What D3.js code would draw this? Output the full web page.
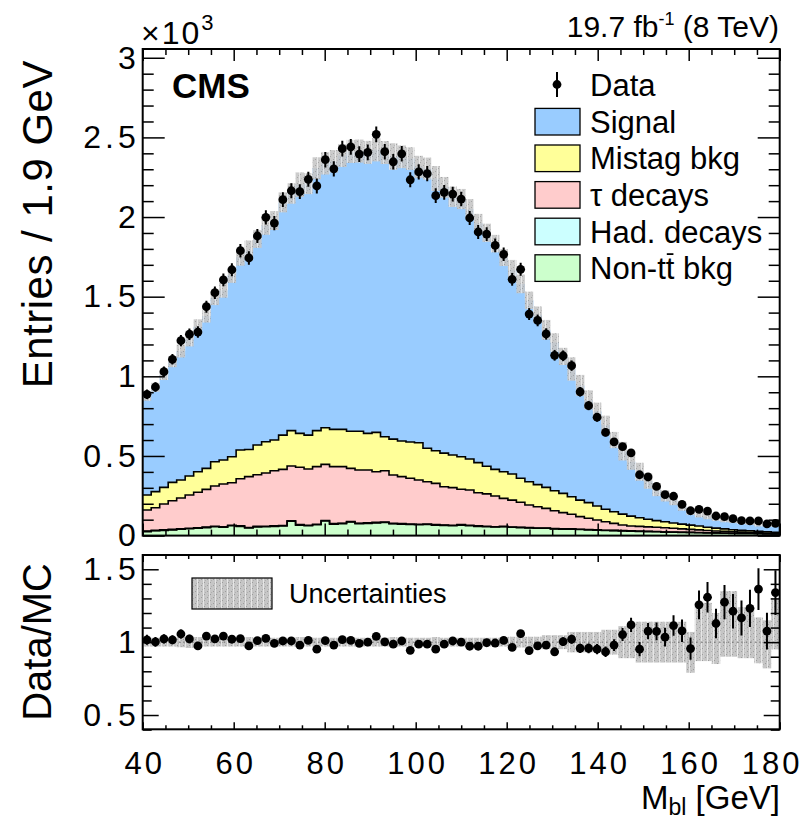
<!DOCTYPE html>
<html><head><meta charset="utf-8">
<script src="https://cdn.jsdelivr.net/npm/d3@7"></script>
<style>
body{margin:0;background:#fff;}
svg text{font-family:"Liberation Sans", Arial, Helvetica, sans-serif;fill:#000;}
</style></head><body>
<svg id="c" width="812" height="821"></svg>
<script>
// ---------- data (entries in units of 10^3) ----------
const binLow = 40, binHigh = 180, nBins = 75;
const data = [0.887,0.933,1.029,1.107,1.224,1.264,1.278,1.437,1.525,1.605,
1.669,1.789,1.743,1.881,1.998,1.962,2.109,2.165,2.159,2.237,
2.195,2.360,2.303,2.429,2.441,2.395,2.406,2.519,2.410,2.347,
2.397,2.234,2.283,2.272,2.134,2.155,2.144,2.113,1.994,1.906,
1.893,1.822,1.766,1.609,1.672,1.391,1.351,1.266,1.132,1.129,
1.067,0.903,0.816,0.743,0.648,0.588,0.558,0.519,0.382,0.368,
0.309,0.257,0.247,0.196,0.156,0.165,0.154,0.123,0.119,0.106,
0.094,0.092,0.092,0.073,0.077];
const signal = [0.618,0.655,0.704,0.756,0.810,0.863,0.911,0.957,1.028,1.065,
1.141,1.210,1.249,1.293,1.358,1.378,1.461,1.489,1.561,1.579,
1.647,1.660,1.683,1.719,1.757,1.759,1.764,1.774,1.784,1.774,
1.784,1.779,1.732,1.756,1.709,1.668,1.621,1.618,1.570,1.503,
1.466,1.417,1.344,1.282,1.220,1.139,1.067,0.989,0.930,0.860,
0.802,0.720,0.645,0.594,0.529,0.450,0.395,0.342,0.289,0.239,
0.194,0.162,0.143,0.110,0.097,0.071,0.066,0.062,0.051,0.050,
0.048,0.045,0.040,0.044,0.036];
const mistag = [0.094,0.101,0.105,0.115,0.113,0.119,0.129,0.132,0.153,0.151,
0.163,0.180,0.171,0.187,0.196,0.193,0.215,0.222,0.213,0.213,
0.226,0.230,0.234,0.234,0.233,0.243,0.230,0.247,0.214,0.226,
0.224,0.228,0.234,0.210,0.205,0.211,0.205,0.204,0.195,0.189,
0.173,0.167,0.167,0.164,0.151,0.146,0.139,0.132,0.126,0.121,
0.110,0.104,0.098,0.088,0.078,0.073,0.068,0.062,0.054,0.048,
0.042,0.038,0.033,0.030,0.027,0.024,0.020,0.018,0.015,0.013,
0.011,0.010,0.009,0.008,0.007];
const tau = [0.133,0.142,0.162,0.180,0.193,0.209,0.223,0.237,0.252,0.269,
0.267,0.296,0.319,0.324,0.334,0.346,0.353,0.344,0.360,0.353,
0.362,0.352,0.358,0.355,0.334,0.334,0.332,0.318,0.322,0.303,
0.295,0.287,0.278,0.265,0.259,0.240,0.236,0.222,0.221,0.208,
0.203,0.193,0.176,0.169,0.157,0.142,0.133,0.123,0.112,0.102,
0.092,0.079,0.071,0.062,0.053,0.044,0.036,0.030,0.030,0.028,
0.026,0.026,0.024,0.021,0.019,0.017,0.014,0.012,0.011,0.009,
0.008,0.006,0.005,0.004,0.003];
const had = [0.003,0.003,0.003,0.003,0.003,0.003,0.003,0.003,0.003,0.003,
0.003,0.003,0.003,0.003,0.003,0.003,0.003,0.003,0.003,0.003,
0.003,0.003,0.003,0.003,0.003,0.003,0.003,0.003,0.003,0.003,
0.003,0.003,0.003,0.003,0.003,0.003,0.003,0.003,0.003,0.003,
0.003,0.002,0.002,0.002,0.002,0.002,0.002,0.002,0.002,0.002,
0.002,0.002,0.002,0.002,0.002,0.002,0.002,0.002,0.002,0.002,
0.002,0.001,0.001,0.001,0.001,0.001,0.001,0.001,0.001,0.001,
0.001,0.001,0.001,0.001,0.001];
const nonTT = [0.025,0.030,0.033,0.036,0.040,0.043,0.046,0.050,0.056,0.052,
0.062,0.058,0.048,0.055,0.056,0.058,0.060,0.090,0.066,0.062,
0.068,0.092,0.072,0.075,0.085,0.075,0.077,0.080,0.082,0.074,
0.072,0.070,0.068,0.070,0.066,0.064,0.062,0.066,0.062,0.058,
0.056,0.054,0.056,0.052,0.050,0.048,0.046,0.046,0.042,0.040,
0.040,0.038,0.036,0.034,0.032,0.031,0.029,0.028,0.026,0.025,
0.024,0.022,0.021,0.020,0.019,0.018,0.017,0.016,0.015,0.014,
0.013,0.013,0.012,0.011,0.010];
const ratio = [1.016,1.002,1.022,1.016,1.056,1.022,0.974,1.042,1.022,1.042,
1.020,1.024,0.974,1.010,1.026,0.992,1.008,1.008,0.980,1.012,
0.952,1.010,0.980,1.018,1.012,0.992,1.000,1.040,1.002,0.986,
1.008,0.944,0.986,0.986,0.952,0.986,1.008,1.000,0.972,0.972,
0.996,0.994,1.012,0.964,1.058,0.942,0.974,0.980,0.934,1.004,
1.020,0.958,0.958,0.952,0.934,0.980,1.052,1.118,0.952,1.076,
1.074,1.034,1.114,1.078,0.956,1.256,1.308,1.128,1.274,1.212,
1.166,1.232,1.364,1.076,1.340];
// relative MC uncertainty (up / down)
const uncUp = [0.03,0.03,0.03,0.03,0.035,0.04,0.035,0.03,0.03,0.03,
0.03,0.03,0.035,0.03,0.03,0.03,0.03,0.03,0.035,0.03,
0.03,0.03,0.03,0.03,0.03,0.03,0.03,0.03,0.03,0.035,
0.03,0.03,0.03,0.03,0.035,0.03,0.03,0.03,0.03,0.03,
0.03,0.03,0.03,0.037,0.037,0.037,0.037,0.048,0.048,0.048,
0.07,0.07,0.07,0.07,0.085,0.085,0.11,0.11,0.14,0.14,
0.14,0.14,0.14,0.14,0.07,0.27,0.27,0.2,0.35,0.35,
0.24,0.24,0.17,0.15,0.3];
const uncDn = [0.03,0.03,0.03,0.03,0.035,0.04,0.035,0.03,0.03,0.03,
0.03,0.03,0.035,0.03,0.03,0.03,0.03,0.03,0.035,0.03,
0.03,0.03,0.03,0.03,0.03,0.03,0.03,0.03,0.03,0.035,
0.03,0.03,0.03,0.03,0.035,0.03,0.03,0.03,0.03,0.03,
0.03,0.03,0.03,0.037,0.037,0.037,0.037,0.048,0.048,0.048,
0.07,0.07,0.07,0.07,0.085,0.085,0.11,0.11,0.14,0.14,
0.14,0.14,0.14,0.14,0.21,0.13,0.13,0.15,0.1,0.1,
0.11,0.11,0.145,0.18,0.05];
const yTickLabels = ["0","0.5","1","1.5","2","2.5","3"];
const rTickLabels = ["0.5","1","1.5"];
const xTickLabels = ["40","60","80","100","120","140","160","180"];
const legendNames = ["Signal","Mistag bkg","\u03C4 decays","Had. decays","Non-tt bkg"];
const legendColors = ["#99ccff","#ffff99","#ffcccc","#ccffff","#ccffcc"];

// ---------- layout ----------
const svg = d3.select("#c");
const X0=142.7, X1=779.7, TY0=49, TY1=535.6, RY0=555, RY1=729.3;
const x = d3.scaleLinear().domain([binLow,binHigh]).range([X0,X1]);
const y = d3.scaleLinear().domain([0,3.055]).range([TY1,TY0]);
const yr = d3.scaleLinear().domain([0.402,1.598]).range([RY1,RY0]);
const bw = (binHigh-binLow)/nBins;
const edges = d3.range(nBins+1).map(i=>binLow+i*bw);

const defs = svg.append("defs");
const pat = defs.append("pattern").attr("id","hatch").attr("width",6).attr("height",6)
  .attr("patternUnits","userSpaceOnUse");
pat.append("rect").attr("width",6).attr("height",6).attr("fill","#c6c6c6");
[[0,0,"#9c9c9c"],[3,3,"#9c9c9c"],[1,4,"#b0b0b0"],[4,1,"#b0b0b0"]].forEach(p=>
  pat.append("rect").attr("x",p[0]).attr("y",p[1]).attr("width",1).attr("height",1).attr("fill",p[2]));
pat.append("rect").attr("x",5).attr("y",0).attr("width",1).attr("height",6).attr("fill","#e6e6e6");
defs.append("clipPath").attr("id","clipT").append("rect").attr("x",X0).attr("y",TY0).attr("width",X1-X0).attr("height",TY1-TY0);
defs.append("clipPath").attr("id","clipR").append("rect").attr("x",X0).attr("y",RY0).attr("width",X1-X0).attr("height",RY1-RY0);

// ---------- stack ----------
const keys=["nonTT","had","tau","mistag","signal"];
const fills={nonTT:"#ccffcc",had:"#ccffff",tau:"#ffcccc",mistag:"#ffff99",signal:"#99ccff"};
const series={nonTT,had,tau,mistag,signal};
const rows=d3.range(nBins).map(i=>{const r={}; keys.forEach(k=>r[k]=series[k][i]); return r;});
const stacked=d3.stack().keys(keys)(rows);
const mcTotal=rows.map(r=>keys.reduce((s,k)=>s+r[k],0));

function stepPts(layer){
  const pts=[];
  layer.forEach((d,i)=>{pts.push({x:edges[i],y0:d[0],y1:d[1]});pts.push({x:edges[i+1],y0:d[0],y1:d[1]});});
  return pts;
}
const area=d3.area().x(d=>x(d.x)).y0(d=>y(d.y0)).y1(d=>y(d.y1));
const topLine=d3.line().x(d=>x(d.x)).y(d=>y(d.y1));

const gT=svg.append("g").attr("clip-path","url(#clipT)");
stacked.slice().reverse().forEach(layer=>{
  gT.append("path").attr("d",area(stepPts(layer))).attr("fill",fills[layer.key]).attr("stroke","none");
});
stacked.forEach(layer=>{
  if(layer.key==="signal") return;
  gT.append("path").attr("d",topLine(stepPts(layer))).attr("fill","none")
    .attr("stroke","#000").attr("stroke-width",1.6);
});
// MC uncertainty band
gT.selectAll("rect.band").data(mcTotal).enter().append("rect")
  .attr("x",(d,i)=>x(edges[i])).attr("width",(d,i)=>x(edges[i+1])-x(edges[i]))
  .attr("y",(d,i)=>y(d*(1+uncUp[i]))).attr("height",(d,i)=>y(d*(1-uncDn[i]))-y(d*(1+uncUp[i])))
  .attr("fill","url(#hatch)").attr("opacity",0.9);
// data
const centers=d3.range(nBins).map(i=>binLow+(i+0.5)*bw);
const err=data.map(v=>Math.sqrt(v*1000)/1000);
gT.selectAll("line.err").data(data).enter().append("line")
  .attr("x1",(d,i)=>x(centers[i])).attr("x2",(d,i)=>x(centers[i]))
  .attr("y1",(d,i)=>y(d-err[i])).attr("y2",(d,i)=>y(d+err[i]))
  .attr("stroke","#000").attr("stroke-width",2);
gT.selectAll("circle.pt").data(data).enter().append("circle")
  .attr("cx",(d,i)=>x(centers[i])).attr("cy",d=>y(d)).attr("r",4.4).attr("fill","#000");

// ---------- ratio panel ----------
const gR=svg.append("g").attr("clip-path","url(#clipR)");
gR.selectAll("rect.rb").data(mcTotal).enter().append("rect")
  .attr("x",(d,i)=>x(edges[i])).attr("width",(d,i)=>x(edges[i+1])-x(edges[i]))
  .attr("y",(d,i)=>yr(1+uncUp[i])).attr("height",(d,i)=>yr(1-uncDn[i])-yr(1+uncUp[i]))
  .attr("fill","url(#hatch)");
gR.append("line").attr("x1",X0).attr("x2",X1).attr("y1",yr(1)).attr("y2",yr(1))
  .attr("stroke","#666").attr("stroke-width",1).attr("stroke-dasharray","1.5,3");
const rErr=data.map((v,i)=>err[i]/mcTotal[i]);
gR.selectAll("line.rerr").data(ratio).enter().append("line")
  .attr("x1",(d,i)=>x(centers[i])).attr("x2",(d,i)=>x(centers[i]))
  .attr("y1",(d,i)=>yr(d-rErr[i])).attr("y2",(d,i)=>yr(d+rErr[i]))
  .attr("stroke","#000").attr("stroke-width",2);
gR.selectAll("circle.rp").data(ratio).enter().append("circle")
  .attr("cx",(d,i)=>x(centers[i])).attr("cy",d=>yr(d)).attr("r",4.4).attr("fill","#000");

// ---------- axes ----------
function styleAxis(g,fs,ls){
  g.select(".domain").remove();
  g.selectAll(".tick line").attr("stroke","#000").attr("stroke-width",1.5);
  g.selectAll(".tick text").attr("font-size",fs).attr("font-family","Liberation Sans, Arial, sans-serif")
    .attr("letter-spacing",ls||0).attr("fill","#000");
}
const xMajor=d3.range(40,181,20), xMinor=d3.range(40,181,5).filter(v=>v%20!==0);
const yMajor=d3.range(0,3.01,0.5), yMinor=d3.range(0,3.05,0.1).filter(v=>Math.abs(v*2-Math.round(v*2))>1e-6);
// top panel y
styleAxis(svg.append("g").attr("transform",`translate(${X0},0)`)
  .call(d3.axisLeft(y).tickValues(yMajor).tickSizeInner(-22).tickSizeOuter(0).tickPadding(3)
  .tickFormat((d,i)=>yTickLabels[i])),32,4);
styleAxis(svg.append("g").attr("transform",`translate(${X0},0)`)
  .call(d3.axisLeft(y).tickValues(yMinor).tickSizeInner(-11).tickSizeOuter(0).tickFormat("")));
styleAxis(svg.append("g").attr("transform",`translate(${X1},0)`)
  .call(d3.axisRight(y).tickValues(yMajor).tickSizeInner(-22).tickSizeOuter(0).tickFormat("")));
styleAxis(svg.append("g").attr("transform",`translate(${X1},0)`)
  .call(d3.axisRight(y).tickValues(yMinor).tickSizeInner(-11).tickSizeOuter(0).tickFormat("")));
// top panel x ticks
[[TY0,d3.axisTop],[TY1,d3.axisBottom]].forEach(([yy,ax])=>{
  styleAxis(svg.append("g").attr("transform",`translate(0,${yy})`)
    .call(ax(x).tickValues(xMajor).tickSizeInner(-12).tickSizeOuter(0).tickFormat("")));
  styleAxis(svg.append("g").attr("transform",`translate(0,${yy})`)
    .call(ax(x).tickValues(xMinor).tickSizeInner(-6).tickSizeOuter(0).tickFormat("")));
});
// ratio y
const rMajor=[0.5,1,1.5], rMinor=d3.range(0.4,1.61,0.1).filter(v=>Math.abs(v*2-Math.round(v*2))>1e-6);
styleAxis(svg.append("g").attr("transform",`translate(${X0},0)`)
  .call(d3.axisLeft(yr).tickValues(rMajor).tickSizeInner(-16).tickSizeOuter(0).tickPadding(3)
  .tickFormat((d,i)=>rTickLabels[i])),32,4);
styleAxis(svg.append("g").attr("transform",`translate(${X0},0)`)
  .call(d3.axisLeft(yr).tickValues(rMinor).tickSizeInner(-9).tickSizeOuter(0).tickFormat("")));
styleAxis(svg.append("g").attr("transform",`translate(${X1},0)`)
  .call(d3.axisRight(yr).tickValues(rMajor).tickSizeInner(-16).tickSizeOuter(0).tickFormat("")));
styleAxis(svg.append("g").attr("transform",`translate(${X1},0)`)
  .call(d3.axisRight(yr).tickValues(rMinor).tickSizeInner(-9).tickSizeOuter(0).tickFormat("")));
styleAxis(svg.append("g").attr("transform",`translate(0,${RY0})`)
  .call(d3.axisTop(x).tickValues(xMajor).tickSizeInner(-7).tickSizeOuter(0).tickFormat("")));
styleAxis(svg.append("g").attr("transform",`translate(0,${RY0})`)
  .call(d3.axisTop(x).tickValues(xMinor).tickSizeInner(-4).tickSizeOuter(0).tickFormat("")));
const xb=svg.append("g").attr("transform",`translate(0,${RY1})`)
  .call(d3.axisBottom(x).tickValues(xMajor).tickSizeInner(-7).tickSizeOuter(0).tickPadding(23)
  .tickFormat((d,i)=>xTickLabels[i]));
styleAxis(xb,31,3);
xb.selectAll(".tick text").attr("dx",(d,i,n)=>i===n.length-1?-8:1.5);
styleAxis(svg.append("g").attr("transform",`translate(0,${RY1})`)
  .call(d3.axisBottom(x).tickValues(xMinor).tickSizeInner(-4).tickSizeOuter(0).tickFormat("")));

// frames
[[TY0,TY1],[RY0,RY1]].forEach(([a,b])=>svg.append("rect").attr("x",X0).attr("y",a)
  .attr("width",X1-X0).attr("height",b-a).attr("fill","none").attr("stroke","#000").attr("stroke-width",2));

// ---------- texts ----------
const t1=svg.append("text").attr("x",141).attr("y",44).attr("font-size",32).attr("letter-spacing",2);
t1.append("tspan").text("\u00D710");
t1.append("tspan").attr("dy",-14).attr("font-size",22).text("3");
const t2=svg.append("text").attr("x",779).attr("y",37).attr("font-size",30).attr("text-anchor","end");
t2.append("tspan").text("19.7 fb");
t2.append("tspan").attr("dy",-12).attr("font-size",18).text("-1");
t2.append("tspan").attr("dy",12).text(" (8 TeV)");
svg.append("text").attr("x",172).attr("y",98).attr("font-size",35).attr("font-weight","bold").text("CMS");
svg.append("text").attr("transform","translate(52,60) rotate(-90)").attr("text-anchor","end")
  .attr("font-size",42).attr("letter-spacing",0.5).text("Entries / 1.9 GeV");
svg.append("text").attr("transform","translate(51,563) rotate(-90)").attr("text-anchor","end")
  .attr("font-size",40).text("Data/MC");
const xt=svg.append("text").attr("x",780).attr("y",809).attr("font-size",33).attr("text-anchor","end");
xt.append("tspan").text("M");
xt.append("tspan").attr("dy",6).attr("font-size",23).text("bl");
xt.append("tspan").attr("dy",-6).text(" [GeV]");

// legend
const lg=svg.append("g");
lg.append("line").attr("x1",557).attr("x2",557).attr("y1",72).attr("y2",97).attr("stroke","#000").attr("stroke-width",2);
lg.append("circle").attr("cx",557).attr("cy",84.5).attr("r",4.4).attr("fill","#000");
lg.append("text").attr("x",590).attr("y",95.5).attr("font-size",31).text("Data");
legendNames.forEach((n,i)=>{
  const cy=121.7+i*36.6;
  lg.append("rect").attr("x",535).attr("y",cy-13.3).attr("width",45).attr("height",26.6)
    .attr("fill",legendColors[i]).attr("stroke","#000").attr("stroke-width",1.3);
  const t=lg.append("text").attr("x",590).attr("y",cy+11).attr("font-size",31).text(n);
  if(i===4){
    const ext=t.node().getExtentOfChar(5);
    lg.append("line").attr("x1",ext.x+1).attr("x2",ext.x+ext.width-1)
      .attr("y1",cy+11-25).attr("y2",cy+11-25).attr("stroke","#000").attr("stroke-width",1.8);
  }
});
svg.append("rect").attr("x",192).attr("y",578).attr("width",80).attr("height",31)
  .attr("fill","url(#hatch)").attr("stroke","#000").attr("stroke-width",1.2);
svg.append("text").attr("x",289).attr("y",603).attr("font-size",27).text("Uncertainties");
</script></body></html>
